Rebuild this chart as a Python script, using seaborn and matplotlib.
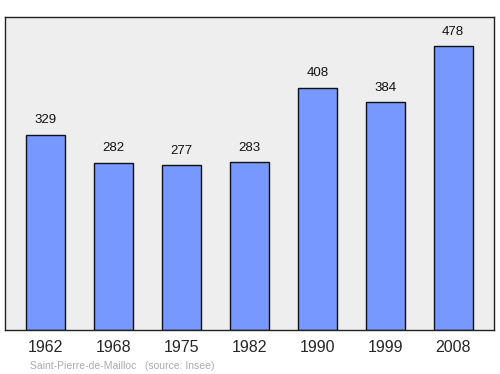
import matplotlib
matplotlib.use("Agg")
import matplotlib.pyplot as plt
import seaborn as sns
import pandas as pd

years = ["1962", "1968", "1975", "1982", "1990", "1999", "2008"]
population = [329, 282, 277, 283, 408, 384, 478]

sns.set_style("white")
plt.rcParams['font.family'] = ['Liberation Sans', 'DejaVu Sans']

df = pd.DataFrame({"year": years, "pop": population})

fig = plt.figure(figsize=(5, 3.74), dpi=100)
ax = fig.add_axes([0.01, 0.1176, 0.978, 0.837])
ax.set_facecolor("#eeeeee")
sns.barplot(data=df, x="year", y="pop", color="#7799ff", saturation=1,
            edgecolor="#111111", linewidth=1, width=0.57, ax=ax)
ax.set_xlim(-0.6, 6.6)
ax.set_ylim(0, 527)
for i, v in enumerate(population):
    ax.annotate(str(v), (i, v), xytext=(0, 6), textcoords="offset points",
                ha="center", va="bottom", fontsize=9.5, color="#111111")
ax.set_yticks([])
ax.set_xlabel("")
ax.set_ylabel("")
ax.tick_params(axis="x", length=0, pad=7, labelsize=11.5)
for s in ax.spines.values():
    s.set_visible(True)
    s.set_color("#222222")
    s.set_linewidth(1)
fig.text(0.06, 0.008, "Saint-Pierre-de-Mailloc   (source: Insee)", fontsize=7.5,
         color="#aaaaaa", ha="left", va="bottom")
fig.savefig("out.png", dpi=100)
